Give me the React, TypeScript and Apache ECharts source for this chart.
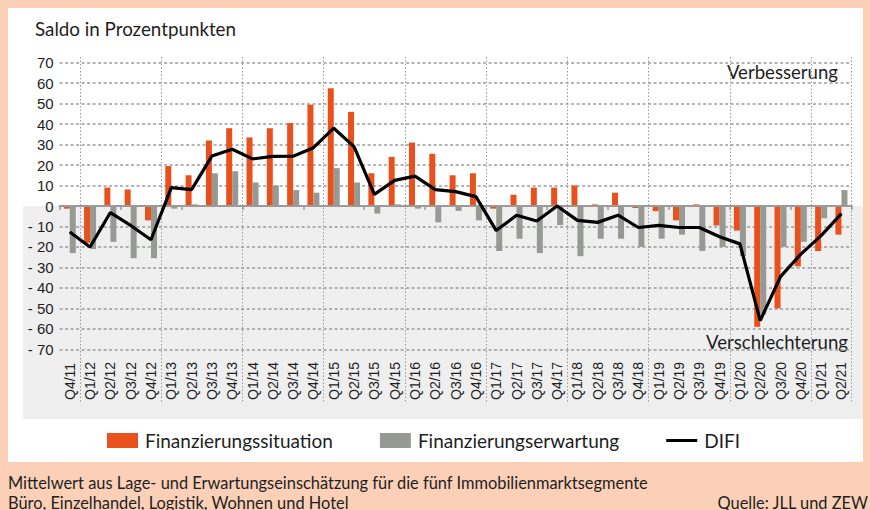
import React, { useEffect, useRef } from "react";
import * as echarts from "echarts";

const categories = [
  "Q4/11",
  "Q1/12", "Q2/12", "Q3/12", "Q4/12",
  "Q1/13", "Q2/13", "Q3/13", "Q4/13",
  "Q1/14", "Q2/14", "Q3/14", "Q4/14",
  "Q1/15", "Q2/15", "Q3/15", "Q4/15",
  "Q1/16", "Q2/16", "Q3/16", "Q4/16",
  "Q1/17", "Q2/17", "Q3/17", "Q4/17",
  "Q1/18", "Q2/18", "Q3/18", "Q4/18",
  "Q1/19", "Q2/19", "Q3/19", "Q4/19",
  "Q1/20", "Q2/20", "Q3/20", "Q4/20",
  "Q1/21", "Q2/21",
];

const situation = [
  -1.3,
  -18, 9, 8, -7,
  19.5, 15, 32, 38,
  33.5, 38, 40.5, 49.5,
  57.5, 46, 16, 24,
  31, 25.5, 15, 16,
  -1.3, 5.5, 9, 9,
  10, 0.8, 6.5, -1,
  -2.5, -7, 0.8, -9.5,
  -12, -59, -50, -29.5,
  -22, -14,
];

const expectation = [
  -23,
  -21, -17.5, -25.5, -25.5,
  -1.3, 0.8, 16, 17,
  11.5, 10, 7.8, 6.5,
  18.5, 11.5, -3.7, 0.8,
  -1.3, -8, -2.4, -7,
  -22, -16, -23, -9.3,
  -24.5, -16, -16, -20,
  -16, -14, -22, -20,
  -24.5, -53, -20, -17.5,
  -6, 7.8,
];

const difi = [
  -12.7,
  -20, -3.2, -9.5, -16.5,
  9, 8, 24.4, 27.7,
  23, 24.2, 24.3, 28.5,
  38, 29, 5.7, 12.5,
  14.6, 8, 7, 4.6,
  -12, -4.5, -7.3, 0,
  -7, -8, -4.5, -10.5,
  -9.5, -10.5, -10.5, -15,
  -18.5, -56, -34.5, -23.5,
  -14.5, -3.7,
];

const yTicks = { min: -70, max: 70, interval: 10 };

const seriesNames = ["Finanzierungssituation", "Finanzierungserwartung", "DIFI"];

const PEACH = "#FBD0B7";
const ORANGE = "#E9501C";
const GRAY = "#979A92";
const TEXT = "#1e1e1e";
const SANS = "Lato, 'Open Sans', sans-serif";
const ARIAL = "'Liberation Sans', Arial, sans-serif";

export default function App() {
  const ref = useRef<HTMLDivElement>(null);

  useEffect(() => {
    if (!ref.current) return;
    const chart = echarts.init(ref.current, null, { renderer: "svg" });

    const gLeft = 59.6;
    const gWidth = 792;
    const gTop = 62.7;
    const gHeight = 286.6;
    const zeroY = gTop + gHeight / 2;

    const option: any = {
      animation: false,
      backgroundColor: PEACH,
      textStyle: { fontFamily: ARIAL },
      grid: [
        { left: gLeft, top: gTop, width: gWidth, height: gHeight },
        { left: gLeft, top: 57, width: gWidth, height: 345 },
      ],
      xAxis: [
        {
          type: "category",
          gridIndex: 0,
          data: categories,
          axisLine: { show: true, onZero: true, lineStyle: { color: "#9a9a9a", width: 2 } },
          axisTick: { show: true, length: 4, lineStyle: { color: "#9a9a9a", width: 1.5 } },
          axisLabel: { show: false },
          splitLine: { show: false },
          z: 3,
        },
        {
          type: "category",
          gridIndex: 1,
          data: categories,
          position: "bottom",
          axisLine: { show: false },
          axisTick: { show: false },
          axisLabel: {
            show: true,
            inside: true,
            rotate: 90,
            interval: 0,
            margin: 2,
            fontSize: 14,
            color: TEXT,
            fontFamily: ARIAL,
          },
          splitLine: {
            show: true,
            interval: (i: number) => i % 4 === 1,
            lineStyle: { color: "#9a9a9a", type: [1.5, 2], width: 1 },
          },
        },
      ],
      yAxis: [
        {
          type: "value",
          gridIndex: 0,
          min: yTicks.min,
          max: yTicks.max,
          interval: yTicks.interval,
          axisLine: { show: false },
          axisTick: { show: false },
          axisLabel: {
            fontSize: 15,
            color: TEXT,
            margin: 6,
            fontFamily: ARIAL,
            formatter: (v: number) => (v < 0 ? "- " + -v : String(v)),
          },
          splitLine: {
            show: true,
            lineStyle: { color: "#9a9a9a", type: [3, 2.5], width: 1.5 },
          },
        },
        { type: "value", gridIndex: 1, show: false, min: 0, max: 1 },
      ],
      legend: {
        left: 107,
        top: 431,
        padding: 0,
        itemWidth: 31,
        itemHeight: 15,
        itemGap: 47,
        symbolKeepAspect: true,
        textStyle: { fontSize: 19, color: TEXT, fontFamily: SANS, padding: [0, 0, 0, 2] },
        data: [
          { name: seriesNames[0], icon: "rect" },
          { name: seriesNames[1], icon: "rect" },
          { name: seriesNames[2], icon: "path://M0 0H33V3.2H0Z", itemStyle: { color: "#000" } },
        ],
      },
      series: [
        {
          name: seriesNames[0],
          type: "bar",
          xAxisIndex: 0,
          yAxisIndex: 0,
          data: situation,
          barWidth: 6,
          barGap: "0%",
          itemStyle: { color: ORANGE },
        },
        {
          name: seriesNames[1],
          type: "bar",
          xAxisIndex: 0,
          yAxisIndex: 0,
          data: expectation,
          barWidth: 6,
          barGap: "0%",
          itemStyle: { color: GRAY },
        },
        {
          name: seriesNames[2],
          type: "line",
          xAxisIndex: 0,
          yAxisIndex: 0,
          data: difi,
          symbol: "none",
          lineStyle: { color: "#000", width: 3.2 },
          itemStyle: { color: "#000" },
          z: 5,
        },
      ],
      graphic: [
        {
          type: "rect",
          z: -10,
          shape: { x: 8, y: 8, width: 855, height: 454 },
          style: { fill: "#ffffff" },
        },
        {
          type: "rect",
          z: -9,
          shape: { x: 23, y: zeroY, width: 840, height: 419 - zeroY },
          style: { fill: "#EFEFEF" },
        },
        {
          type: "text",
          x: 35,
          y: 28,
          style: {
            text: "Saldo in Prozentpunkten",
            fill: TEXT,
            font: `18.8px ${SANS}`,
            textVerticalAlign: "middle",
          },
        },
        {
          type: "text",
          x: 838,
          y: 72,
          style: {
            text: "Verbesserung",
            fill: TEXT,
            font: `18.6px ${SANS}`,
            textAlign: "right",
            textVerticalAlign: "middle",
          },
        },
        {
          type: "text",
          x: 848,
          y: 342,
          style: {
            text: "Verschlechterung",
            fill: TEXT,
            font: `18.6px ${SANS}`,
            textAlign: "right",
            textVerticalAlign: "middle",
          },
        },
        {
          type: "text",
          x: 8,
          y: 482,
          style: {
            text: "Mittelwert aus Lage- und Erwartungseinschätzung für die fünf Immobilienmarktsegmente",
            fill: TEXT,
            font: `16.4px ${SANS}`,
            textVerticalAlign: "middle",
          },
        },
        {
          type: "text",
          x: 8,
          y: 502,
          style: {
            text: "Büro, Einzelhandel, Logistik, Wohnen und Hotel",
            fill: TEXT,
            font: `16.4px ${SANS}`,
            textVerticalAlign: "middle",
          },
        },
        {
          type: "text",
          x: 868,
          y: 502,
          style: {
            text: "Quelle: JLL und ZEW",
            fill: TEXT,
            font: `16.4px ${SANS}`,
            textAlign: "right",
            textVerticalAlign: "middle",
          },
        },
      ],
    };

    chart.setOption(option);
    return () => chart.dispose();
  }, []);

  return (
    <div
      ref={ref}
      style={{ position: "fixed", left: 0, top: 0, width: 870, height: 510 }}
    />
  );
}
